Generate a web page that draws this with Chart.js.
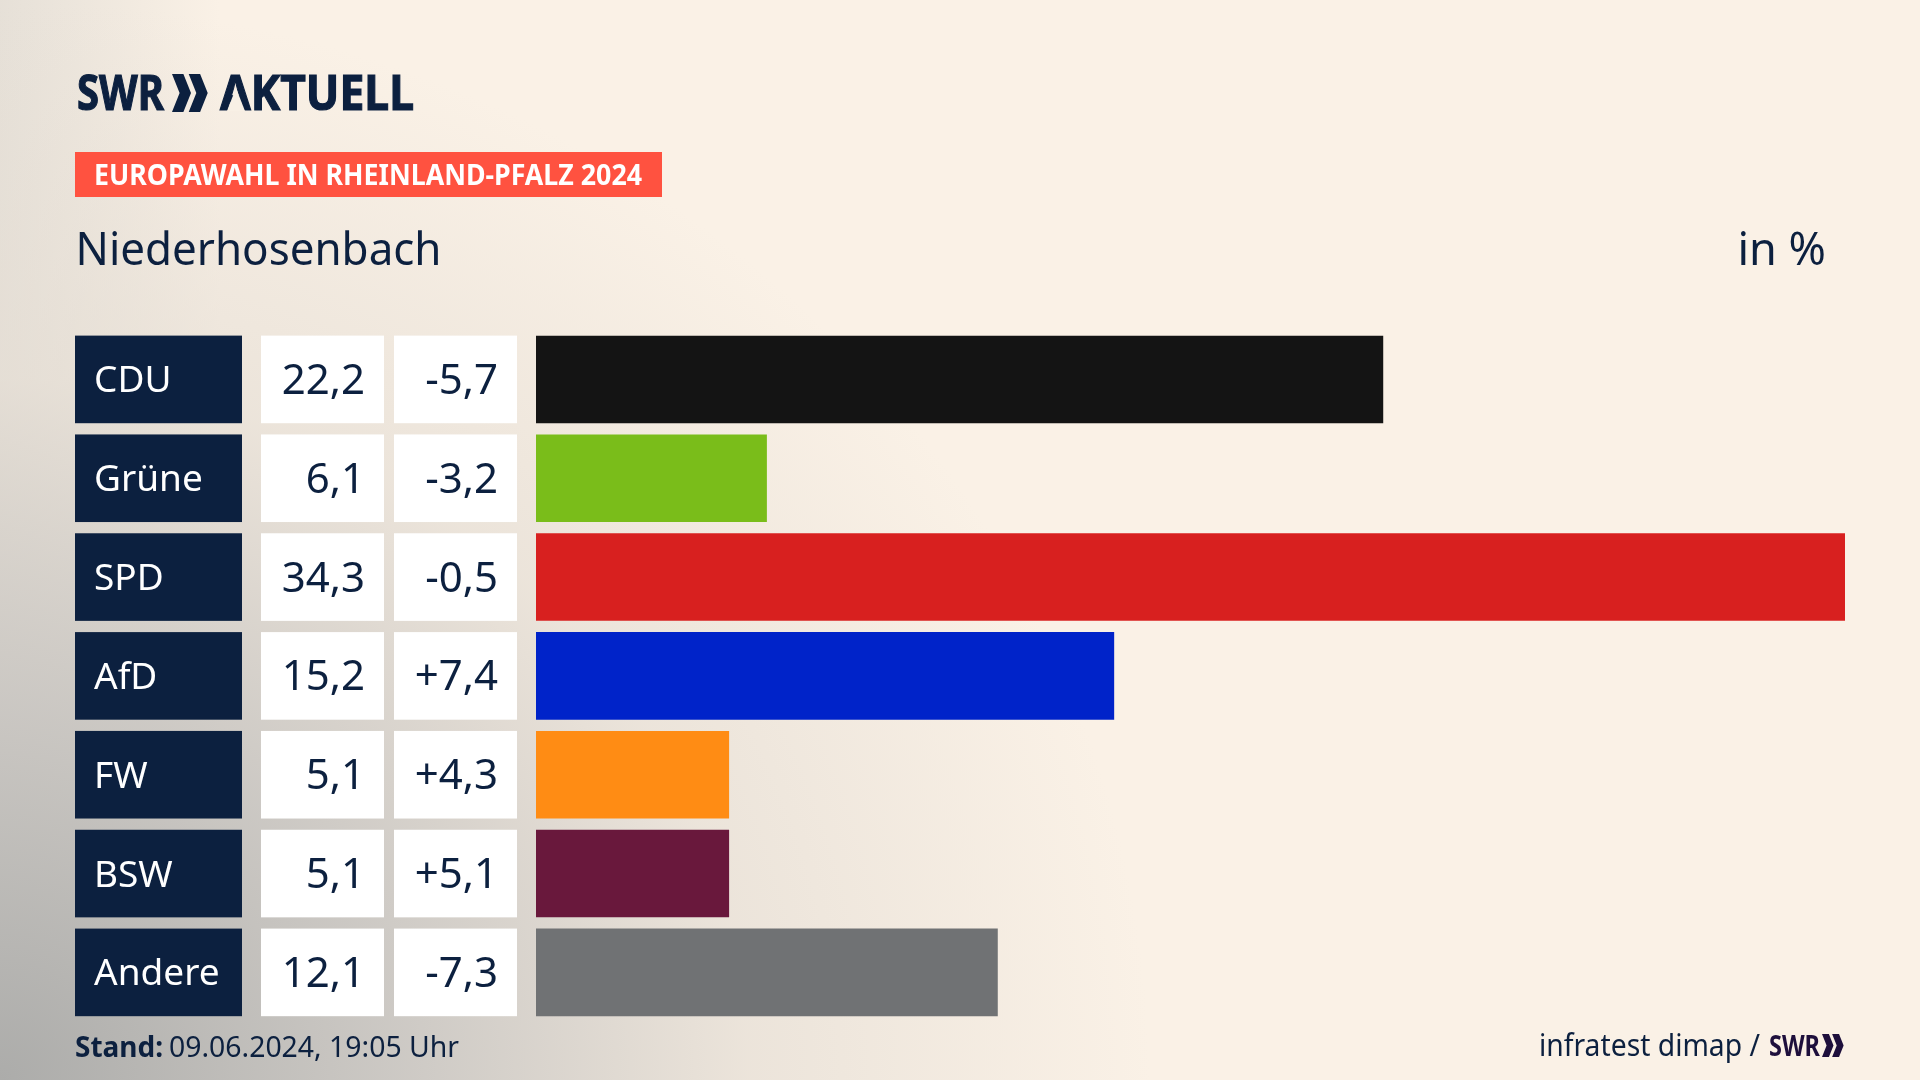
<!DOCTYPE html>
<html lang="de">
<head>
<meta charset="utf-8">
<title>Europawahl Niederhosenbach</title>
<script src="https://cdn.jsdelivr.net/npm/chart.js@4"></script>
<style>
html, body { margin: 0; padding: 0; width: 1920px; height: 1080px; overflow: hidden; background-color: #faf1e6; }
body {
  background-image:
    radial-gradient(ellipse 1150px 1080px at 0px 1080px, rgba(172,172,170,1) 0%, rgba(200,197,193,.9) 35%, rgba(228,221,212,.65) 65%, rgba(250,241,230,0) 100%),
    linear-gradient(90deg, rgba(225,220,212,.8) 0px, rgba(250,241,230,0) 220px);
}
canvas { display: block; }
</style>
</head>
<body>
<canvas id="myChart" width="1920" height="1080"></canvas>
<script>
const PARTIES = ['CDU', 'Grüne', 'SPD', 'AfD', 'FW', 'BSW', 'Andere'];
// bar lengths, the printed numbers are rounded
const VALUES = [22.2, 6.05, 34.3, 15.15, 5.06, 5.06, 12.1];
const VALUE_LABELS = ['22,2', '6,1', '34,3', '15,2', '5,1', '5,1', '12,1'];
const CHANGE_LABELS = ['-5,7', '-3,2', '-0,5', '+7,4', '+4,3', '+5,1', '-7,3'];
const BAR_COLORS = ['#141414', '#7abd1a', '#d8201f', '#0023c9', '#ff8c14', '#69183c', '#707274'];

const NAVY = '#0c203f';
const FONT = '"Noto Sans"';
const ROW_H = 87.6;

function text(ctx, str, x, y, font, color, align, maxWidth) {
  ctx.font = font;
  ctx.fillStyle = color;
  ctx.textAlign = align || 'left';
  ctx.textBaseline = 'alphabetic';
  if (maxWidth) ctx.fillText(str, x, y, maxWidth);
  else ctx.fillText(str, x, y);
}

function logoText(ctx, str, x, y, maxWidth) {
  text(ctx, str, x, y, 'bold 49px ' + FONT, NAVY, 'left', maxWidth);
  ctx.strokeStyle = NAVY;
  ctx.lineWidth = 1.2;
  ctx.strokeText(str, x, y, maxWidth);
}

// the two arrows of the SWR logo
function chevrons(ctx, x, y, h, color) {
  const w = h * 0.2, flat = h * 0.3, gap = h * 0.44;
  ctx.fillStyle = color;
  [0, gap].forEach(function (dx) {
    ctx.beginPath();
    ctx.moveTo(x + dx, y);
    ctx.lineTo(x + dx + flat, y);
    ctx.lineTo(x + dx + flat + w, y + h / 2);
    ctx.lineTo(x + dx + flat, y + h);
    ctx.lineTo(x + dx, y + h);
    ctx.lineTo(x + dx + w, y + h / 2);
    ctx.closePath();
    ctx.fill();
  });
}

const boxes = {
  id: 'boxes',
  beforeDraw(chart) {
    const ctx = chart.ctx, y = chart.scales.y;
    PARTIES.forEach(function (p, i) {
      const c = y.getPixelForTick(i);
      ctx.fillStyle = NAVY;
      ctx.fillRect(75, c - ROW_H / 2, 167, ROW_H);
      ctx.fillStyle = '#ffffff';
      ctx.fillRect(261, c - ROW_H / 2, 123, ROW_H);
      ctx.fillRect(394, c - ROW_H / 2, 123, ROW_H);
    });
  },
  afterDraw(chart) {
    const ctx = chart.ctx, y = chart.scales.y;
    PARTIES.forEach(function (p, i) {
      const c = y.getPixelForTick(i) + 14.5;
      text(ctx, VALUE_LABELS[i], 365, c, '42px ' + FONT, NAVY, 'right');
      text(ctx, CHANGE_LABELS[i], 498, c, '42px ' + FONT, NAVY, 'right');
    });

    // header
    logoText(ctx, 'SWR', 77, 110, 87);
    chevrons(ctx, 172, 74, 38, NAVY);
    logoText(ctx, 'AKTUELL', 220, 110, 194);
    // the logo's A has no crossbar
    ctx.fillStyle = '#f8f0e5';
    ctx.beginPath();
    ctx.moveTo(227, 111);
    ctx.lineTo(245, 111);
    ctx.lineTo(236, 88);
    ctx.closePath();
    ctx.fill();

    ctx.fillStyle = '#ff5240';
    ctx.fillRect(75, 152, 587, 45);
    text(ctx, 'EUROPAWAHL IN RHEINLAND-PFALZ 2024', 94, 185, 'bold 28px ' + FONT, '#ffffff', 'left', 548);

    text(ctx, 'Niederhosenbach', 75.5, 265, '45px ' + FONT, NAVY, 'left', 366);
    text(ctx, 'in %', 1826, 265, '45px ' + FONT, NAVY, 'right');

    // footer
    text(ctx, 'Stand:', 75, 1057, 'bold 28px ' + FONT, NAVY, 'left', 88);
    text(ctx, '09.06.2024, 19:05 Uhr', 169, 1057, '29px ' + FONT, NAVY, 'left', 290);
    text(ctx, 'infratest dimap /', 1539, 1056, '30px ' + FONT, NAVY, 'left', 221);
    text(ctx, 'SWR', 1769, 1056, 'bold 28px ' + FONT, '#1e0f3c', 'left', 51);
    chevrons(ctx, 1822, 1034, 23, '#1e0f3c');
  }
};

new Chart(document.getElementById('myChart'), {
  type: 'bar',
  plugins: [boxes],
  data: {
    labels: PARTIES,
    datasets: [{
      data: VALUES,
      backgroundColor: BAR_COLORS,
      borderWidth: 0,
      categoryPercentage: 1,
      barPercentage: 0.886
    }]
  },
  options: {
    indexAxis: 'y',
    responsive: false,
    animation: false,
    devicePixelRatio: 1,
    layout: { padding: { left: 94, right: 75, top: 330, bottom: 58.2 } },
    plugins: { legend: { display: false }, tooltip: { enabled: false } },
    scales: {
      x: { display: false, min: 0, max: 34.3 },
      y: {
        afterFit(scale) { scale.width = 442; },
        border: { display: false },
        grid: { display: false },
        ticks: {
          crossAlign: 'far',
          padding: 0,
          labelOffset: 2.5,
          color: '#ffffff',
          font: { family: 'Noto Sans', size: 37 }
        }
      }
    }
  }
});
</script>
</body>
</html>
